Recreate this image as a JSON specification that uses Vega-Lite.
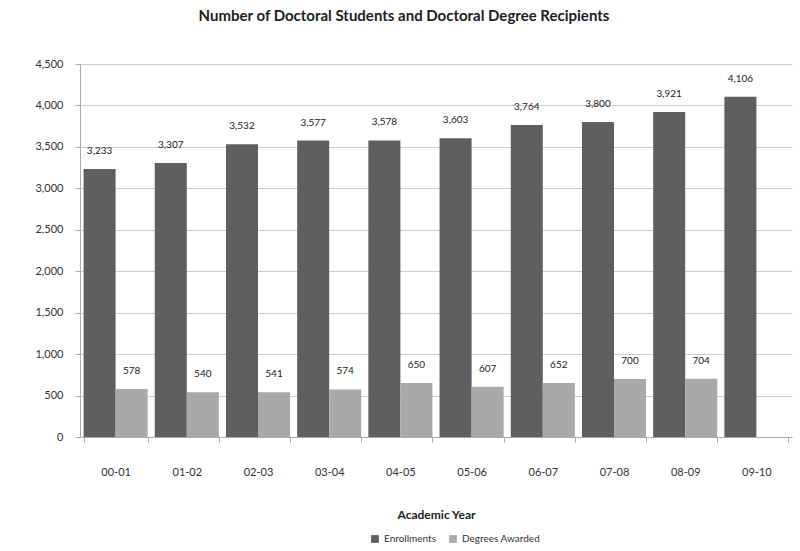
{
  "$schema": "https://vega.github.io/schema/vega-lite/v6.json",
  "autosize": {"type": "none"},
  "padding": {"left": 80, "top": 64, "right": 8, "bottom": 114},
  "width": 712,
  "height": 373,
  "background": "white",
  "config": {
    "font": "Lato",
    "view": {"stroke": null}
  },
  "title": {
    "text": "Number of Doctoral Students and Doctoral Degree Recipients",
    "fontSize": 15,
    "fontWeight": "bold",
    "color": "#222222",
    "anchor": "middle",
    "dx": -32,
    "offset": 34
  },
  "data": {
    "values": [
      {"year": "00-01", "series": "Enrollments", "value": 3233},
      {"year": "00-01", "series": "Degrees Awarded", "value": 578},
      {"year": "01-02", "series": "Enrollments", "value": 3307},
      {"year": "01-02", "series": "Degrees Awarded", "value": 540},
      {"year": "02-03", "series": "Enrollments", "value": 3532},
      {"year": "02-03", "series": "Degrees Awarded", "value": 541},
      {"year": "03-04", "series": "Enrollments", "value": 3577},
      {"year": "03-04", "series": "Degrees Awarded", "value": 574},
      {"year": "04-05", "series": "Enrollments", "value": 3578},
      {"year": "04-05", "series": "Degrees Awarded", "value": 650},
      {"year": "05-06", "series": "Enrollments", "value": 3603},
      {"year": "05-06", "series": "Degrees Awarded", "value": 607},
      {"year": "06-07", "series": "Enrollments", "value": 3764},
      {"year": "06-07", "series": "Degrees Awarded", "value": 652},
      {"year": "07-08", "series": "Enrollments", "value": 3800},
      {"year": "07-08", "series": "Degrees Awarded", "value": 700},
      {"year": "08-09", "series": "Enrollments", "value": 3921},
      {"year": "08-09", "series": "Degrees Awarded", "value": 704},
      {"year": "09-10", "series": "Enrollments", "value": 4106}
    ]
  },
  "encoding": {
    "x": {
      "field": "year",
      "type": "nominal",
      "sort": null,
      "scale": {"paddingInner": 0.1, "paddingOuter": 0.05},
      "axis": {
        "title": "Academic Year",
        "titleFontSize": 12,
        "titleFontWeight": "bold",
        "titleColor": "#222222",
        "titlePadding": 32,
        "labelAngle": 0,
        "labelFontSize": 11,
        "labelColor": "#333333",
        "labelPadding": 24,
        "tickBand": "extent",
        "tickColor": "#aaaaaa",
        "tickSize": 5,
        "domainColor": "#aaaaaa"
      }
    },
    "xOffset": {"field": "series", "type": "nominal", "sort": ["Enrollments", "Degrees Awarded"]},
    "y": {
      "field": "value",
      "type": "quantitative",
      "scale": {"domain": [0, 4500]},
      "axis": {
        "title": null,
        "values": [0, 500, 1000, 1500, 2000, 2500, 3000, 3500, 4000, 4500],
        "format": ",d",
        "labelFontSize": 11,
        "labelColor": "#333333",
        "labelPadding": 12,
        "tickSize": 5,
        "tickColor": "#aaaaaa",
        "domainColor": "#aaaaaa",
        "gridColor": "#cccccc"
      }
    }
  },
  "layer": [
    {
      "mark": {"type": "bar"},
      "encoding": {
        "color": {
          "field": "series",
          "type": "nominal",
          "sort": ["Enrollments", "Degrees Awarded"],
          "scale": {"domain": ["Enrollments", "Degrees Awarded"], "range": ["#5f5f5f", "#a9a9a9"]},
          "legend": {
            "title": null,
            "orient": "none",
            "direction": "horizontal",
            "legendX": 290,
            "legendY": 470,
            "symbolType": "square",
            "symbolSize": 60,
            "labelFontSize": 10,
            "labelColor": "#333333",
            "columnPadding": 12,
            "symbolOffset": 0
          }
        }
      }
    },
    {
      "mark": {"type": "text", "baseline": "bottom", "dy": -13, "fontSize": 10, "color": "#222222"},
      "encoding": {
        "text": {"field": "value", "type": "quantitative", "format": ",d"}
      }
    }
  ]
}
